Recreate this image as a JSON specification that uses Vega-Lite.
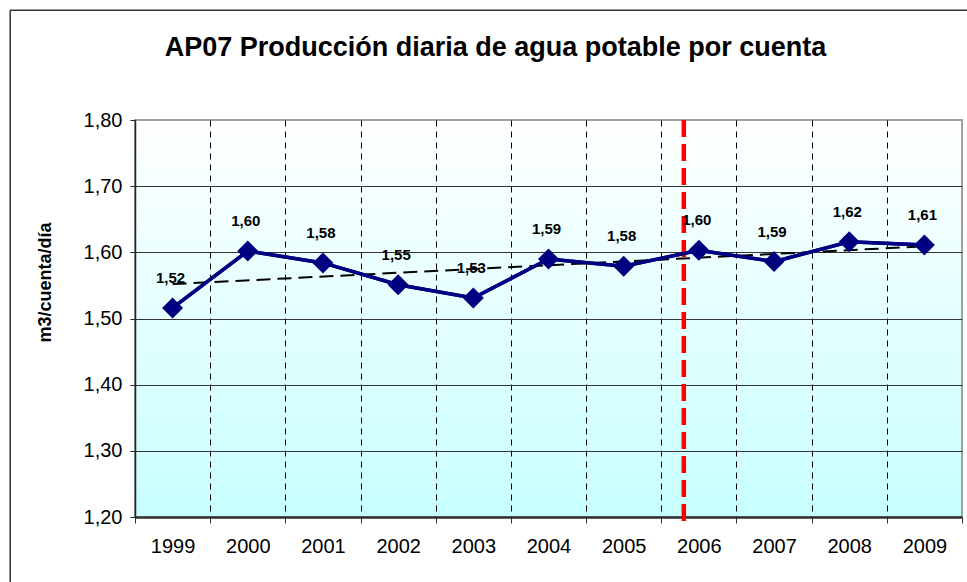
{
  "$schema": "https://vega.github.io/schema/vega-lite/v6.json",
  "width": 827,
  "height": 397,
  "autosize": "none",
  "padding": {"left": 135, "top": 120, "right": 5, "bottom": 65},
  "background": "white",
  "title": {
    "text": "AP07 Producción diaria de agua potable por cuenta",
    "font": "Liberation Sans",
    "fontSize": 27,
    "fontWeight": "bold",
    "color": "black",
    "anchor": "middle",
    "frame": "group",
    "baseline": "alphabetic",
    "dx": -53,
    "offset": -74
  },
  "config": {
    "locale": {"number": {"decimal": ",", "thousands": ".", "grouping": [3], "currency": ["", " €"]}},
    "view": {"stroke": "#a0a0a0", "strokeWidth": 2, "fill": {"gradient": "linear", "x1": 0, "y1": 0, "x2": 0, "y2": 1, "stops": [{"offset": 0, "color": "#ffffff"}, {"offset": 1, "color": "#c8ffff"}]}},
    "font": "Liberation Sans"
  },
  "resolve": {"scale": {"x": "shared", "y": "shared"}, "axis": {"x": "independent", "y": "independent"}},
  "datasets": {
    "serie": [
      {"year": 1999, "value": 1.516},
      {"year": 2000, "value": 1.602},
      {"year": 2001, "value": 1.584},
      {"year": 2002, "value": 1.551},
      {"year": 2003, "value": 1.531},
      {"year": 2004, "value": 1.590},
      {"year": 2005, "value": 1.579},
      {"year": 2006, "value": 1.603},
      {"year": 2007, "value": 1.586},
      {"year": 2008, "value": 1.616},
      {"year": 2009, "value": 1.611}
    ],
    "tendencia": [
      {"year": 1999, "value": 1.552},
      {"year": 2009, "value": 1.609}
    ],
    "corte": [{"year": 2005.8}],
    "uno": [{}]
  },
  "layer": [
    {
      "data": {"name": "serie"},
      "mark": {"type": "line", "color": "#000080", "strokeWidth": 3.5},
      "encoding": {
        "x": {
          "field": "year", "type": "quantitative",
          "scale": {"domain": [1998.5, 2009.5], "nice": false, "zero": false},
          "axis": {
            "title": null,
            "values": [1998.5, 1999, 1999.5, 2000, 2000.5, 2001, 2001.5, 2002, 2002.5, 2003, 2003.5, 2004, 2004.5, 2005, 2005.5, 2006, 2006.5, 2007, 2007.5, 2008, 2008.5, 2009, 2009.5],
            "labelExpr": "datum.value % 1 === 0 ? '' + datum.value : ''",
            "labelFont": "Liberation Sans",
            "labelFontSize": 20,
            "labelColor": "black",
            "labelPadding": 13,
            "labelOverlap": false,
            "labelFlush": false,
            "tickSize": 6,
            "tickColor": "#333333",
            "tickOpacity": {"condition": {"test": "datum.value % 1 === 0", "value": 0}, "value": 1},
            "grid": true,
            "gridColor": "black",
            "gridWidth": 1,
            "gridDash": [6, 5],
            "gridOpacity": {"condition": {"test": "datum.value % 1 === 0 || datum.value < 1999 || datum.value > 2009", "value": 0}, "value": 1},
            "domainColor": "#333333",
            "domainWidth": 2.5
          }
        },
        "y": {
          "field": "value", "type": "quantitative",
          "scale": {"domain": [1.2, 1.8], "nice": false, "zero": false},
          "axis": {
            "title": "m3/cuenta/día",
            "titleFont": "Liberation Sans",
            "titleFontSize": 18,
            "titleFontWeight": "bold",
            "titleColor": "black",
            "titleAngle": -90,
            "titleAlign": "center",
            "titleBaseline": "middle",
            "titleX": -90,
            "titleY": 162,
            "values": [1.2, 1.3, 1.4, 1.5, 1.6, 1.7, 1.8],
            "format": ".2f",
            "labelFont": "Liberation Sans",
            "labelFontSize": 20,
            "labelColor": "black",
            "labelPadding": 8,
            "labelFlush": false,
            "tickSize": 5,
            "tickColor": "#222222",
            "domainColor": "#222222",
            "domainWidth": 1.5,
            "grid": true,
            "gridColor": "#333333",
            "gridWidth": 1,
            "gridOpacity": {"condition": {"test": "datum.value > 1.79 || datum.value < 1.21", "value": 0}, "value": 1}
          }
        }
      }
    },
    {
      "data": {"name": "tendencia"},
      "mark": {"type": "line", "color": "black", "strokeWidth": 2, "strokeDash": [14, 7]},
      "encoding": {
        "x": {"field": "year", "type": "quantitative", "axis": null},
        "y": {"field": "value", "type": "quantitative", "axis": null}
      }
    },
    {
      "data": {"name": "corte"},
      "mark": {"type": "rule", "color": "#ff0000", "strokeWidth": 4.5, "strokeDash": [17, 7]},
      "encoding": {
        "x": {"field": "year", "type": "quantitative", "axis": null},
        "y": {"datum": 1.8, "type": "quantitative", "axis": null},
        "y2": {"datum": 1.19}
      }
    },
    {
      "data": {"name": "serie"},
      "mark": {"type": "line", "color": "#000080", "strokeWidth": 3.5, "point": {"shape": "diamond", "size": 440, "filled": true, "color": "#000080", "opacity": 1}},
      "encoding": {
        "x": {"field": "year", "type": "quantitative", "axis": null},
        "y": {"field": "value", "type": "quantitative", "axis": null}
      }
    },
    {
      "data": {"name": "serie"},
      "mark": {"type": "text", "fontSize": 15, "fontWeight": "bold", "color": "black", "dy": -30, "dx": -2},
      "encoding": {
        "x": {"field": "year", "type": "quantitative", "axis": null},
        "y": {"field": "value", "type": "quantitative", "axis": null},
        "text": {"field": "value", "type": "quantitative", "format": ".2f"}
      }
    },
    {
      "data": {"name": "uno"},
      "mark": {"type": "rule", "color": "#333333", "strokeWidth": 1.5, "clip": false},
      "encoding": {
        "x": {"datum": 1996.84, "type": "quantitative", "axis": null},
        "y": {"datum": 1.966, "type": "quantitative", "axis": null},
        "y2": {"datum": 0.9}
      }
    },
    {
      "data": {"name": "uno"},
      "mark": {"type": "rule", "color": "#333333", "strokeWidth": 1.5, "clip": false},
      "encoding": {
        "x": {"datum": 1996.84, "type": "quantitative", "axis": null},
        "x2": {"datum": 2012},
        "y": {"datum": 1.966, "type": "quantitative", "axis": null}
      }
    }
  ]
}
